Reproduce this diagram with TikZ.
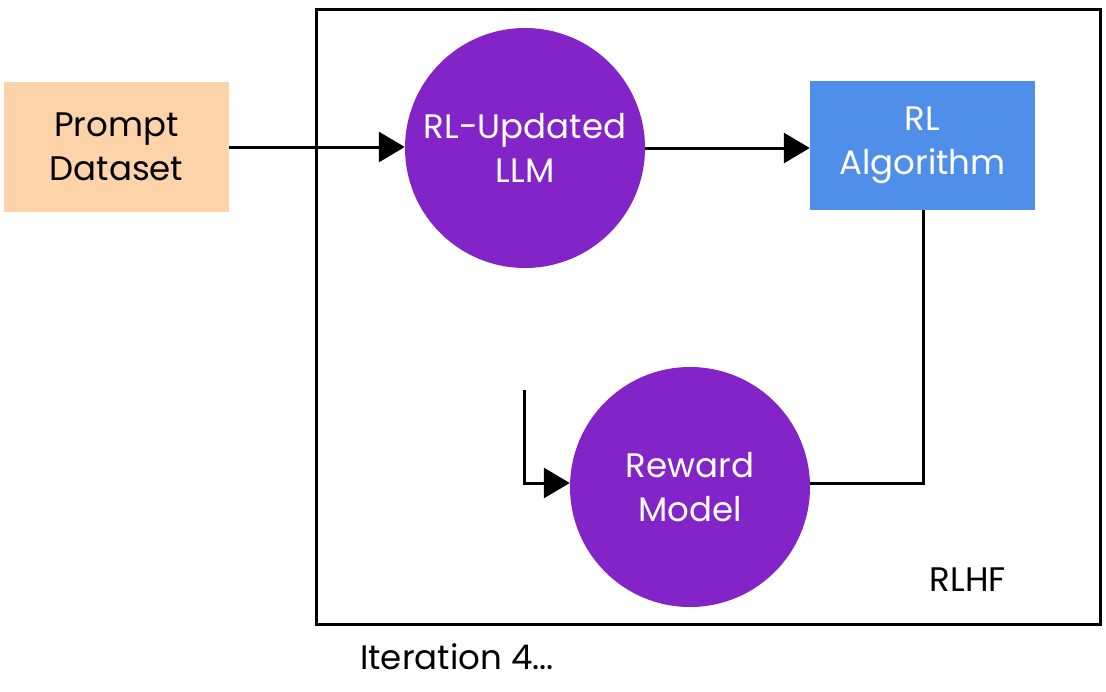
\documentclass[tikz,border=0pt]{standalone}
\usepackage{fontspec}
\setmainfont{Poppins}
\usetikzlibrary{arrows.meta}
\definecolor{peach}{HTML}{FDD3AA}
\definecolor{rlblue}{HTML}{4F8FEA}
\definecolor{llmpurple}{HTML}{8224C8}
\tikzset{
  lbl/.style={font=\fontsize{34}{44}\selectfont, align=center, text=black},
  wlbl/.style={font=\fontsize{34}{44}\selectfont, align=center, text=white},
  conn/.style={line width=3pt, -{Triangle[length=26pt,width=30pt]}},
  plain/.style={line width=3pt},
}
\begin{document}
\begin{tikzpicture}[x=1pt,y=-1pt]
\useasboundingbox (0,0) rectangle (1106,691);
\draw[line width=3pt] (316,9) rectangle (1100,624);
\node[fill=peach, minimum width=225pt, minimum height=130pt, inner sep=0pt, lbl] (prompt) at (116.5,147) {Prompt\\Dataset};
\node[circle, fill=llmpurple, minimum size=240pt, inner sep=0pt, wlbl] (llm) at (525,148) {RL-Updated\\LLM};
\node[fill=rlblue, minimum width=225pt, minimum height=129pt, inner sep=0pt, wlbl] (rl) at (922.5,145.5) {RL\\Algorithm};
\node[circle, fill=llmpurple, minimum size=240pt, inner sep=0pt, wlbl] (reward) at (690,487) {Reward\\Model};
\node[lbl] (rlhf) at (968,580) {RLHF};
\node[lbl] (iter) at (457,657) {Iteration 4...};
\coordinate (tap) at (524,390);
\coordinate (corner) at (923,483);
\draw[conn] (prompt.east |- 0,147) -- (llm.west |- 0,147);
\draw[conn] (llm.east) -- (rl.west |- llm.east);
\draw[plain] (rl.south -| corner) -- (corner) -- (reward.east |- corner);
\draw[conn] (tap) |- (reward.west |- 0,483);
\end{tikzpicture}
\end{document}
